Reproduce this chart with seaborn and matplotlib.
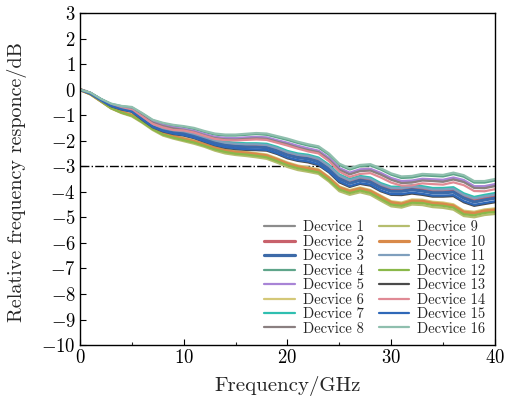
import matplotlib
matplotlib.use("Agg")
import matplotlib.pyplot as plt
import seaborn as sns
import pandas as pd

# Frequency axis (GHz)
freq = list(range(0, 41))

# Relative frequency response (dB) of each device
dev1 = [0, -0.13, -0.39, -0.59, -0.70, -0.75, -1.00, -1.28, -1.41, -1.50, -1.56, -1.64, -1.77, -1.87, -1.92, -1.93, -1.90, -1.88, -1.90, -2.01, -2.11, -2.23, -2.34, -2.42, -2.70, -3.10, -3.29, -3.16, -3.13, -3.29, -3.50, -3.62, -3.60, -3.52, -3.55, -3.57, -3.48, -3.58, -3.82, -3.82, -3.74]
dev2 = [0, -0.15, -0.39, -0.61, -0.72, -0.80, -1.10, -1.39, -1.54, -1.63, -1.68, -1.77, -1.91, -2.04, -2.13, -2.18, -2.20, -2.20, -2.23, -2.35, -2.51, -2.61, -2.67, -2.78, -3.06, -3.44, -3.62, -3.50, -3.56, -3.79, -3.93, -3.93, -3.87, -3.91, -3.98, -3.98, -3.95, -4.20, -4.34, -4.26, -4.19]
dev3 = [0, -0.15, -0.39, -0.62, -0.74, -0.82, -1.12, -1.41, -1.57, -1.66, -1.71, -1.81, -1.94, -2.08, -2.17, -2.22, -2.24, -2.25, -2.27, -2.40, -2.56, -2.66, -2.71, -2.83, -3.11, -3.49, -3.67, -3.55, -3.62, -3.84, -3.98, -3.98, -3.92, -3.97, -4.04, -4.04, -4.01, -4.25, -4.40, -4.32, -4.25]
dev4 = [0, -0.12, -0.37, -0.56, -0.65, -0.70, -0.94, -1.20, -1.33, -1.41, -1.46, -1.54, -1.66, -1.76, -1.80, -1.80, -1.77, -1.74, -1.77, -1.87, -1.97, -2.09, -2.19, -2.27, -2.55, -2.95, -3.13, -3.00, -2.97, -3.13, -3.33, -3.46, -3.44, -3.36, -3.38, -3.40, -3.31, -3.41, -3.64, -3.64, -3.56]
dev5 = [0, -0.13, -0.38, -0.59, -0.69, -0.74, -0.99, -1.26, -1.39, -1.48, -1.54, -1.62, -1.74, -1.85, -1.89, -1.90, -1.87, -1.85, -1.87, -1.98, -2.08, -2.20, -2.30, -2.39, -2.67, -3.07, -3.25, -3.12, -3.10, -3.26, -3.46, -3.58, -3.56, -3.49, -3.51, -3.53, -3.44, -3.54, -3.78, -3.78, -3.70]
dev6 = [0, -0.17, -0.43, -0.70, -0.87, -0.98, -1.22, -1.49, -1.70, -1.81, -1.90, -1.99, -2.11, -2.25, -2.35, -2.41, -2.44, -2.49, -2.54, -2.69, -2.85, -2.97, -3.04, -3.12, -3.42, -3.79, -3.93, -3.83, -3.93, -4.15, -4.37, -4.42, -4.30, -4.31, -4.39, -4.42, -4.49, -4.74, -4.78, -4.69, -4.65]
dev7 = [0, -0.14, -0.37, -0.58, -0.69, -0.76, -1.05, -1.33, -1.48, -1.56, -1.60, -1.69, -1.82, -1.95, -2.04, -2.08, -2.10, -2.10, -2.12, -2.24, -2.40, -2.50, -2.55, -2.66, -2.94, -3.32, -3.50, -3.38, -3.44, -3.66, -3.80, -3.80, -3.74, -3.78, -3.85, -3.85, -3.82, -4.06, -4.20, -4.12, -4.05]
dev8 = [0, -0.14, -0.39, -0.60, -0.71, -0.76, -1.02, -1.29, -1.43, -1.52, -1.58, -1.66, -1.79, -1.90, -1.95, -1.96, -1.93, -1.91, -1.93, -2.04, -2.14, -2.27, -2.37, -2.45, -2.74, -3.14, -3.32, -3.19, -3.17, -3.33, -3.53, -3.66, -3.64, -3.56, -3.58, -3.61, -3.52, -3.62, -3.85, -3.86, -3.78]
dev9 = [0, -0.18, -0.46, -0.74, -0.92, -1.05, -1.30, -1.58, -1.80, -1.92, -2.02, -2.12, -2.24, -2.39, -2.50, -2.56, -2.60, -2.65, -2.71, -2.86, -3.03, -3.15, -3.22, -3.30, -3.60, -3.98, -4.12, -4.02, -4.12, -4.35, -4.57, -4.62, -4.50, -4.52, -4.60, -4.63, -4.70, -4.95, -5.00, -4.91, -4.87]
dev10 = [0, -0.17, -0.44, -0.71, -0.88, -1.00, -1.24, -1.51, -1.73, -1.84, -1.93, -2.03, -2.15, -2.29, -2.39, -2.45, -2.48, -2.53, -2.59, -2.74, -2.90, -3.02, -3.09, -3.17, -3.47, -3.84, -3.98, -3.88, -3.98, -4.20, -4.42, -4.48, -4.36, -4.37, -4.45, -4.48, -4.55, -4.80, -4.84, -4.75, -4.71]
dev11 = [0, -0.14, -0.38, -0.59, -0.70, -0.78, -1.07, -1.35, -1.51, -1.59, -1.63, -1.73, -1.86, -1.99, -2.08, -2.12, -2.14, -2.14, -2.17, -2.29, -2.45, -2.55, -2.60, -2.71, -2.99, -3.37, -3.55, -3.43, -3.49, -3.71, -3.85, -3.86, -3.80, -3.84, -3.91, -3.91, -3.88, -4.12, -4.26, -4.18, -4.11]
dev12 = [0, -0.18, -0.45, -0.73, -0.90, -1.02, -1.27, -1.55, -1.76, -1.88, -1.98, -2.07, -2.20, -2.34, -2.44, -2.51, -2.54, -2.59, -2.65, -2.80, -2.96, -3.08, -3.16, -3.24, -3.54, -3.91, -4.05, -3.95, -4.05, -4.28, -4.50, -4.55, -4.43, -4.44, -4.52, -4.55, -4.62, -4.88, -4.92, -4.83, -4.79]
dev13 = [0, -0.16, -0.41, -0.65, -0.78, -0.87, -1.18, -1.47, -1.64, -1.74, -1.80, -1.90, -2.04, -2.18, -2.28, -2.33, -2.36, -2.37, -2.39, -2.52, -2.69, -2.79, -2.85, -2.96, -3.24, -3.63, -3.81, -3.69, -3.76, -3.98, -4.12, -4.13, -4.07, -4.12, -4.19, -4.19, -4.17, -4.41, -4.55, -4.48, -4.41]
dev14 = [0, -0.14, -0.41, -0.62, -0.74, -0.80, -1.06, -1.34, -1.48, -1.58, -1.60, -1.68, -1.81, -1.93, -1.98, -1.99, -1.97, -1.95, -1.97, -2.08, -2.19, -2.31, -2.42, -2.50, -2.80, -3.21, -3.42, -3.30, -3.27, -3.44, -3.64, -3.76, -3.75, -3.67, -3.70, -3.72, -3.63, -3.74, -3.97, -3.98, -3.90]
dev15 = [0, -0.16, -0.41, -0.64, -0.77, -0.86, -1.16, -1.46, -1.62, -1.72, -1.78, -1.88, -2.02, -2.16, -2.25, -2.30, -2.33, -2.34, -2.36, -2.49, -2.66, -2.76, -2.81, -2.93, -3.21, -3.59, -3.78, -3.66, -3.72, -3.95, -4.09, -4.09, -4.03, -4.08, -4.15, -4.15, -4.13, -4.37, -4.51, -4.44, -4.37]
dev16 = [0, -0.12, -0.36, -0.55, -0.64, -0.68, -0.92, -1.18, -1.30, -1.38, -1.43, -1.50, -1.62, -1.72, -1.76, -1.76, -1.73, -1.70, -1.72, -1.82, -1.92, -2.04, -2.14, -2.22, -2.50, -2.90, -3.08, -2.95, -2.92, -3.08, -3.28, -3.40, -3.38, -3.30, -3.32, -3.34, -3.25, -3.35, -3.58, -3.58, -3.50]

devices = [dev1, dev2, dev3, dev4, dev5, dev6, dev7, dev8,
           dev9, dev10, dev11, dev12, dev13, dev14, dev15, dev16]
labels = [f"Decvice {i}" for i in range(1, 17)]
cutoff_db = -3

colors = ["#8c8c8c", "#c8616b", "#3d6aa8", "#5fa58a", "#a884d6", "#d4c878",
          "#2fbfb0", "#8a7f80", "#b5bd6e", "#d98a4a", "#7f9fbd", "#8ab84a",
          "#4a4a4a", "#e08a95", "#2f68b8", "#8fbfae"]
widths = [1.6, 2.3, 2.3, 1.6, 1.6, 1.6, 1.6, 1.6,
          1.6, 2.3, 1.6, 1.6, 1.6, 1.6, 1.6, 1.6]

sns.set_theme(style="ticks")
plt.rcParams["font.family"] = ["cmr10", "DejaVu Serif"]
plt.rcParams["mathtext.fontset"] = "cm"
plt.rcParams["axes.formatter.use_mathtext"] = True
plt.rcParams["axes.unicode_minus"] = True

rows = []
for lab, vals in zip(labels, devices):
    for f, v in zip(freq, vals):
        rows.append({"freq": f, "resp": v, "device": lab})
df = pd.DataFrame(rows)

fig = plt.figure(figsize=(5.05, 4.05), dpi=100)
ax = fig.add_axes([0.1584, 0.148, 0.8216, 0.820])

for lab, col, lw in zip(labels, colors, widths):
    sns.lineplot(data=df[df["device"] == lab], x="freq", y="resp",
                 color=col, linewidth=lw, label=lab, ax=ax)

ax.axhline(cutoff_db, color="black", linestyle="-.", linewidth=1.0, zorder=0)

ax.set_xlim(0, 40)
ax.set_ylim(-10, 3)
ax.set_xticks([0, 10, 20, 30, 40])
ax.set_xticks([5, 15, 25, 35], minor=True)
ax.set_yticks(list(range(-10, 4)))
ax.tick_params(axis="both", which="major", direction="in", length=4,
               width=0.8, labelsize=13.5, colors="black", pad=3)
ax.tick_params(axis="x", which="minor", direction="in", length=2.5, width=0.8)
for s in ax.spines.values():
    s.set_linewidth(1.0)
    s.set_color("black")

ax.set_xlabel("Frequency/GHz", fontsize=15, labelpad=6)
ax.set_ylabel("Relative frequency responce/dB", fontsize=14.5)
ax.yaxis.set_label_coords(-0.128, 0.49)

ax.legend(ncol=2, loc="lower right", frameon=False, fontsize=10.5,
          handlelength=2.1, labelspacing=0.05, columnspacing=1.0,
          handletextpad=0.55, borderaxespad=0.25)

fig.savefig("out.png", dpi=100)
